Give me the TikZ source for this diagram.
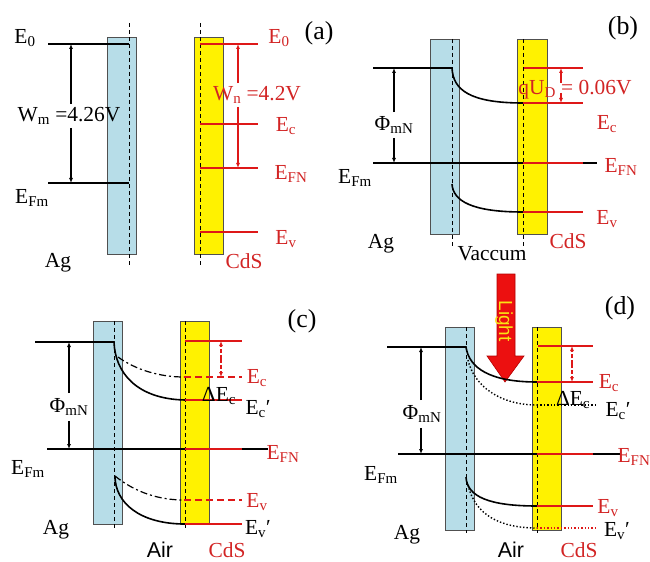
\documentclass[tikz,border=0pt]{standalone}
\usepackage{fontspec}
\setmainfont{Liberation Serif}
\setsansfont{Liberation Sans}
\usetikzlibrary{arrows.meta}
\definecolor{agblue}{RGB}{183,221,232}
\definecolor{bandred}{RGB}{222,24,24}
\definecolor{txtred}{RGB}{210,36,36}
\definecolor{boxgray}{RGB}{80,80,80}
\definecolor{lightred}{RGB}{236,16,16}
\definecolor{lightyel}{RGB}{250,228,20}
\newcommand{\lsub}[1]{\textsubscript{#1}}
\newcommand{\lblfont}{\fontsize{21.5}{23}\selectfont}
\newcommand{\tagfont}{\fontsize{26}{28}\selectfont}

\begin{document}
\begin{tikzpicture}[x=1bp, y=-1bp,
    lev/.style={line width=1.6bp},
    rlev/.style={line width=1.6bp, bandred},
    vdash/.style={line width=0.8bp, dash pattern=on 4bp off 3bp},
    agbox/.style={draw=boxgray, fill=agblue, line width=0.8bp},
    cdsbox/.style={draw=boxgray, fill=yellow, line width=0.8bp},
    lbl/.style={font=\lblfont, inner sep=0pt},
    rlbl/.style={lbl, text=txtred},
    slbl/.style={font=\sffamily\lblfont, inner sep=0pt},
    tag/.style={font=\tagfont, inner sep=0pt},
    dimarr/.style={-{Latex[length=5bp,width=4bp]}, line width=1.1bp},
    dashdot/.style={line width=1.2bp, dash pattern=on 7bp off 3bp on 2bp off 3bp},
    rdash/.style={rlev, dash pattern=on 7bp off 4bp},
    dotline/.style={line width=1.4bp, dash pattern=on 1.4bp off 2bp}]
\useasboundingbox (0,0) rectangle (650,562);

% (a) before contact
\draw[agbox] (107,37) rectangle (136,254);
\draw[cdsbox] (194,37) rectangle (223,254);
\coordinate (aAg) at (129,23);  \coordinate (aAgEnd) at (129,267);
\coordinate (aCd) at (200,23);  \coordinate (aCdEnd) at (200,267);
\draw[vdash] (aAg) -- (aAgEnd);
\draw[vdash] (aCd) -- (aCdEnd);
\coordinate (aE0) at (48,44);   \coordinate (aEF) at (48,183);
\draw[lev] (aE0) -- (aE0 -| aAg);
\draw[lev] (aEF) -- (aEF -| aAg);
\coordinate (aN0) at (258,44);  \coordinate (aNc) at (258,124);
\coordinate (aNF) at (258,168); \coordinate (aNv) at (258,232);
\draw[rlev] (aN0 -| aCd) -- (aN0);
\draw[rlev] (aNc -| aCd) -- (aNc);
\draw[rlev] (aNF -| aCd) -- (aNF);
\draw[rlev] (aNv -| aCd) -- (aNv);

\coordinate (aWt) at (71,44);   \coordinate (aWb) at (71,183);
\node[lbl, inner ysep=3bp] (wm) at (69,116) {W\lsub{m} =4.26V};
\draw[dimarr] (wm.north -| aWt) -- (aWt);
\draw[dimarr] (wm.south -| aWb) -- (aWb);
\coordinate (aNt) at (238,44);  \coordinate (aNb) at (238,168);
\node[rlbl, inner ysep=3bp] (wn) at (257,95) {W\lsub{n} =4.2V};
\draw[dimarr, bandred] (wn.north -| aNt) -- (aNt);
\draw[dimarr, bandred] (wn.south -| aNb) -- (aNb);

\node[lbl] (aE0l) at (25,38) {E\lsub{0}};
\node[lbl] (aEFl) at (32,198) {E\lsub{Fm}};
\node[lbl] (aAgl) at (58,263) {Ag};
\node[rlbl] (aN0l) at (279,38) {E\lsub{0}};
\node[rlbl] (aNcl) at (286,126) {E\lsub{c}};
\node[rlbl] (aNFl) at (291,174) {E\lsub{FN}};
\node[rlbl] (aNvl) at (286,239) {E\lsub{v}};
\node[rlbl] (aCdl) at (244,261) {CdS};
\node[tag] (ta) at (319,33) {(a)};

% (b) in vacuum
\draw[agbox] (430,39) rectangle (459,234);
\draw[cdsbox] (517,39) rectangle (547,234);
\coordinate (bAg) at (452,39);  \coordinate (bAgEnd) at (452,247);
\coordinate (bCd) at (523,39);  \coordinate (bCdEnd) at (523,247);
\draw[vdash] (bAg) -- (bAgEnd);
\draw[vdash] (bCd) -- (bCdEnd);
\coordinate (bE0) at (373,68);  \coordinate (bEF) at (373,163);
\coordinate (bEv) at (452,184); \coordinate (bR) at (583,39);
\coordinate (bNc) at (523,103); \coordinate (bNv) at (523,212);
\coordinate (bN0) at (524,68);
\draw[lev] (bE0) -- (bE0 -| bAg) .. controls (453,90) and (470,103) .. (bNc);
\draw[lev] (bEv) .. controls (453,201) and (472,212) .. (bNv);
\draw[lev] (bEF) -- (bEF -| bCd);
\draw[rlev] (bEF -| bCd) -- (bEF -| bR);
\draw[lev] (bEF -| bR) -- ++(14,0);
\draw[rlev] (bN0) -- (bN0 -| bR);
\draw[rlev] (bNc) -- (bNc -| bR);
\draw[rlev] (bNv) -- (bNv -| bR);

\coordinate (bPt) at (394,68);  \coordinate (bPb) at (394,163);
\node[lbl, inner ysep=4bp] (pb) at (394,125) {Φ\lsub{mN}};
\draw[dimarr] (pb.north -| bPt) -- (bPt);
\draw[dimarr] (pb.south -| bPb) -- (bPb);
\coordinate (bUt) at (561,68);  \coordinate (bUb) at (561,103);
\coordinate (bUm) at (561,83);  \coordinate (bUn) at (561,93);
\draw[dimarr, bandred] (bUm) -- (bUt);
\draw[dimarr, bandred] (bUn) -- (bUb);
\node[rlbl] (ud) at (575,90) {qU\lsub{D} = 0.06V};

\node[lbl] (bEFl) at (355,178) {E\lsub{Fm}};
\node[lbl] (bAgl) at (381,244) {Ag};
\node[lbl] (vac) at (492,254) {Vaccum};
\node[rlbl] (bNcl) at (607,124) {E\lsub{c}};
\node[rlbl] (bNFl) at (621,167) {E\lsub{FN}};
\node[rlbl] (bNvl) at (607,219) {E\lsub{v}};
\node[rlbl] (bCdl) at (568,241) {CdS};
\node[tag] (tb) at (623,28) {(b)};

% (c) in air
\draw[agbox] (93,321) rectangle (122,524);
\draw[cdsbox] (180,321) rectangle (209,524);
\coordinate (cAg) at (114,321); \coordinate (cAgEnd) at (114,530);
\coordinate (cCd) at (185,321); \coordinate (cCdEnd) at (185,530);
\draw[vdash] (cAg) -- (cAgEnd);
\draw[vdash] (cCd) -- (cCdEnd);
\coordinate (cE0) at (35,342);  \coordinate (cEF) at (47,449);
\coordinate (cR) at (242,321);
\coordinate (cN0) at (185,341);
\coordinate (cNc) at (184,377); \coordinate (cNcc) at (185,400);
\coordinate (cNv) at (184,500); \coordinate (cNvv) at (185,524);
\coordinate (cA1) at (118,357); \coordinate (cA2) at (115,476);
\draw[lev] (cE0) -- (cE0 -| cAg) .. controls (115,372) and (136,399) .. (cNcc);
\draw[dashdot] (cA1) .. controls (136,370) and (160,377) .. (cNc);
\draw[rdash] (cNc) -- (cNc -| cR);
\draw[rlev] (cNcc) -- (cNcc -| cR);
\draw[rlev] (cN0) -- (cN0 -| cR);
\draw[lev] (cA2) .. controls (115,503) and (140,524) .. (cNvv);
\draw[dashdot] (cA2) .. controls (136,493) and (160,500) .. (cNv);
\draw[rdash] (cNv) -- (cNv -| cR);
\draw[rlev] (cNvv) -- (cNvv -| cR);
\draw[lev] (cEF) -- (cEF -| cCd);
\draw[rlev] (cEF -| cCd) -- (cEF -| cR);
\draw[lev] (cEF -| cR) -- ++(26,0);

\coordinate (cPt) at (69,342);  \coordinate (cPb) at (69,449);
\node[lbl, inner ysep=5bp] (pc) at (69,407) {Φ\lsub{mN}};
\draw[dimarr] (pc.north -| cPt) -- (cPt);
\draw[dimarr] (pc.south -| cPb) -- (cPb);
\coordinate (cDt) at (221,341); \coordinate (cDb) at (221,377);
\coordinate (cDm) at (221,359);
\draw[dimarr, bandred, dash pattern=on 4bp off 2bp] (cDm) -- (cDt);
\draw[dimarr, bandred, dash pattern=on 4bp off 2bp] (cDm) -- (cDb);
\node[lbl] (cdE) at (219,396) {ΔE\lsub{c}};

\node[lbl] (cEFl) at (28,469) {E\lsub{Fm}};
\node[lbl] (cAgl) at (56,530) {Ag};
\node[slbl] (cAir) at (160,550) {Air};
\node[rlbl] (cCdl) at (227,550) {CdS};
\node[rlbl] (cNcl) at (257,378) {E\lsub{c}};
\node[lbl] (cNccl) at (258,409) {E\lsub{c}′};
\node[rlbl] (cNFl) at (283,454) {E\lsub{FN}};
\node[rlbl] (cNvl) at (257,502) {E\lsub{v}};
\node[lbl] (cNvvl) at (258,529) {E\lsub{v}′};
\node[tag] (tc) at (302,321) {(c)};

% (d) in air under light
\draw[fill=lightred, draw=red!70!black, line width=0.6bp]
    (497,274) -- (515,274) -- (515,356) -- (524,356) -- (505,382)
    -- (487,356) -- (497,356) -- cycle;
\node[font=\sffamily\fontsize{19}{21}\selectfont, text=lightyel, rotate=-90,
    inner sep=0pt] (light) at (504,321) {Light};
\draw[agbox] (445,327) rectangle (474,530);
\draw[cdsbox] (532,327) rectangle (561,530);
\coordinate (dAg) at (466,327); \coordinate (dAgEnd) at (466,533);
\coordinate (dCd) at (537,327); \coordinate (dCdEnd) at (537,533);
\draw[vdash] (dAg) -- (dAgEnd);
\draw[vdash] (dCd) -- (dCdEnd);
\coordinate (dE0) at (387,347); \coordinate (dEF) at (398,454);
\coordinate (dR) at (593,327);
\coordinate (dN0) at (538,346);
\coordinate (dNc) at (537,382); \coordinate (dNcc) at (537,405);
\coordinate (dNv) at (537,506); \coordinate (dNvv) at (537,528);
\coordinate (dA1) at (468,360); \coordinate (dA2) at (466,477);
\coordinate (dA3) at (468,485);
\draw[lev] (dE0) -- (dE0 -| dAg) .. controls (469,368) and (490,382) .. (dNc);
\draw[dotline] (dA1) .. controls (474,386) and (500,405) .. (dNcc);
\draw[dotline] (dNcc) -- ++(58,0);
\draw[rlev] (dNc) -- (dNc -| dR);
\draw[rlev] (dN0) -- (dN0 -| dR);
\draw[lev] (dA2) .. controls (467,497) and (490,506) .. (dNv);
\draw[dotline] (dA3) .. controls (475,515) and (500,528) .. (dNvv);
\draw[rlev] (dNv) -- (dNv -| dR);
\draw[dotline, bandred] (dNvv) -- ++(58,0);
\draw[lev] (dEF) -- (dEF -| dCd);
\draw[rlev] (dEF -| dCd) -- (dEF -| dR);
\draw[lev] (dEF -| dR) -- ++(27,0);

\coordinate (dPt) at (421,347); \coordinate (dPb) at (421,454);
\node[lbl, inner ysep=5bp] (pd) at (422,414) {Φ\lsub{mN}};
\draw[dimarr] (pd.north -| dPt) -- (dPt);
\draw[dimarr] (pd.south -| dPb) -- (dPb);
\coordinate (dDt) at (572,346); \coordinate (dDb) at (572,382);
\coordinate (dDm) at (572,364);
\draw[dimarr, bandred, dash pattern=on 4bp off 2bp] (dDm) -- (dDt);
\draw[dimarr, bandred, dash pattern=on 4bp off 2bp] (dDm) -- (dDb);
\node[lbl] (ddE) at (573,400) {ΔE\lsub{c}};

\node[lbl] (dEFl) at (381,475) {E\lsub{Fm}};
\node[lbl] (dAgl) at (407,535) {Ag};
\node[slbl] (dAir) at (511,550) {Air};
\node[rlbl] (dCdl) at (579,550) {CdS};
\node[rlbl] (dNcl) at (609,383) {E\lsub{c}};
\node[lbl] (dNccl) at (618,411) {E\lsub{c}′};
\node[rlbl] (dNFl) at (634,457) {E\lsub{FN}};
\node[rlbl] (dNvl) at (608,508) {E\lsub{v}};
\node[lbl] (dNvvl) at (617,531) {E\lsub{v}′};
\node[tag] (td) at (620,308) {(d)};
\end{tikzpicture}
\end{document}
